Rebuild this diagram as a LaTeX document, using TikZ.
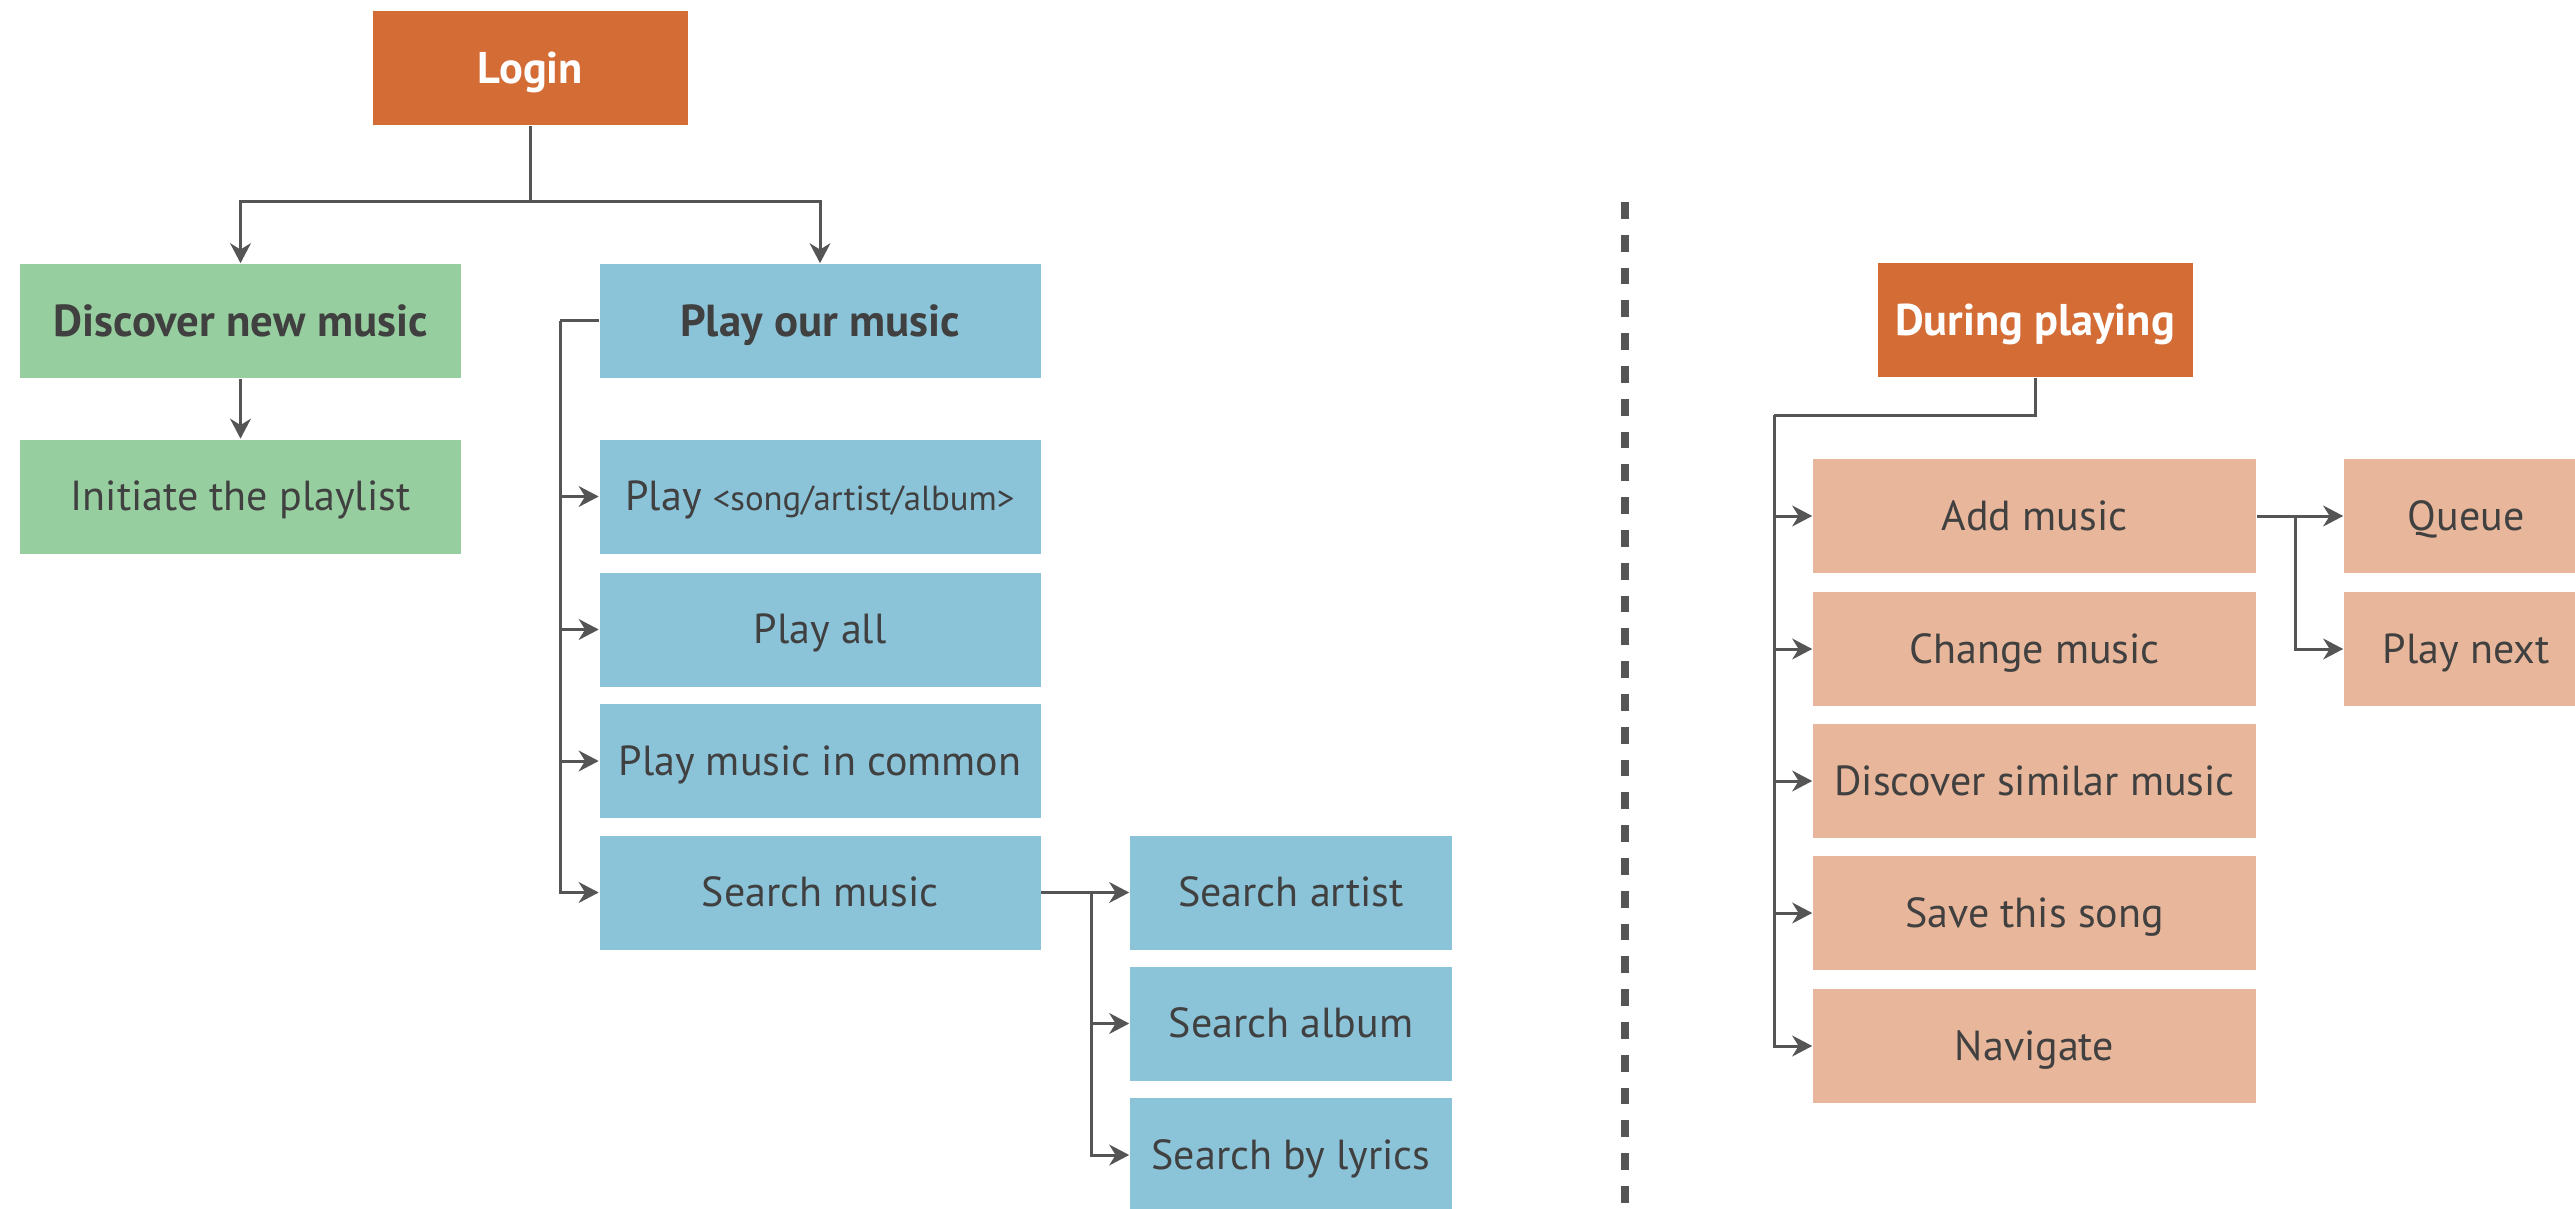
\documentclass[tikz,border=0pt]{standalone}
\usepackage{fontspec}
\setmainfont{PT Sans}
\usetikzlibrary{arrows.meta}
\definecolor{rootorange}{HTML}{D46C36}
\definecolor{discgreen}{HTML}{97CE9F}
\definecolor{playblue}{HTML}{8BC3D8}
\definecolor{duringpeach}{HTML}{E8B69A}
\definecolor{linegray}{HTML}{555555}
\definecolor{textgray}{HTML}{404040}
\begin{document}
\begin{tikzpicture}[x=0.25pt,y=-0.25pt,
  box/.style={rectangle, inner sep=0pt, minimum height=28.5pt,
    text height=7.2pt, text depth=0pt, text=textgray,
    font=\fontsize{10.5}{12}\selectfont},
  rootbox/.style={box, fill=rootorange, minimum width=78.75pt, text=white,
    text height=7.6pt, font=\fontsize{11.1}{13}\selectfont\bfseries},
  greenbox/.style={box, fill=discgreen, minimum width=110.25pt},
  bluebox/.style={box, fill=playblue, minimum width=110.25pt},
  bluesub/.style={box, fill=playblue, minimum width=80.5pt},
  peachbox/.style={box, fill=duringpeach, minimum width=110.75pt},
  peachsub/.style={box, fill=duringpeach, minimum width=61pt},
  head/.style={text height=7.7pt, font=\fontsize{11.2}{13}\selectfont\bfseries},
  link/.style={draw=linegray, line width=0.75pt},
  arr/.style={link, -{Stealth[length=5pt, width=5.2pt, inset=1.6pt]}},
]
\clip (0,0) rectangle (2575,1208);
\fill[white] (0,0) rectangle (2575,1208);

% left tree: login and its two branches
\node[rootbox] (login) at (530.5,68) {Login};
\node[greenbox, head] (discover) at (240.5,321) {Discover new music};
\node[greenbox] (initiate) at (240.5,496.5) {Initiate the playlist};
\node[bluebox, head] (play) at (820,321) {Play our music};
\node[bluebox] (playsong) at (820,496.5) {Play {\fontsize{8.7}{10}\selectfont<song/artist/album>}};
\node[bluebox] (playall) at (820,629.5) {Play all};
\node[bluebox] (common) at (820,761) {Play music in common};
\node[bluebox] (search) at (820,892.5) {Search music};
\node[bluesub] (artist) at (1291,892.5) {Search artist};
\node[bluesub] (album) at (1291,1023.5) {Search album};
\node[bluesub] (lyrics) at (1291,1155) {Search by lyrics};

\coordinate (split) at (530.5,202);
\draw[link] (login.south) -- (split);
\draw[arr] (split) -| (discover.north);
\draw[arr] (split) -| (play.north);
\draw[arr] (discover.south) -- (initiate.north);

\coordinate (playbus) at (560,321);
\draw[link] (play.west) -- (playbus);
\foreach \t in {playsong, playall, common, search}
  \draw[arr] (playbus) |- (\t.west);

\coordinate (searchbus) at (1091,892.5);
\draw[arr] (search.east) -- (artist.west);
\foreach \t in {album, lyrics}
  \draw[arr] (searchbus) |- (\t.west);

% separator
\draw[linegray, line width=2pt, dash pattern=on 4.2pt off 4pt] (1625,202) -- (1625,1208);

% right tree: actions while playing
\node[rootbox] (during) at (2035,320) {During playing};
\node[peachbox] (add) at (2034.5,516) {Add music};
\node[peachbox] (change) at (2034.5,649) {Change music};
\node[peachbox] (similar) at (2034.5,781) {Discover similar music};
\node[peachbox] (save) at (2034.5,913) {Save this song};
\node[peachbox] (navigate) at (2034.5,1046) {Navigate};
\node[peachsub] (queue) at (2466,516) {Queue};
\node[peachsub] (next) at (2466,649) {Play next};

\coordinate (dbend) at (2035,415);
\coordinate (dbus) at (1774,415);
\draw[link] (during.south) -- (dbend) -- (dbus);
\foreach \t in {add, change, similar, save, navigate}
  \draw[arr] (dbus) |- (\t.west);

\coordinate (addbus) at (2295,516);
\draw[arr] (add.east) -- (queue.west);
\draw[arr] (addbus) |- (next.west);
\end{tikzpicture}
\end{document}
